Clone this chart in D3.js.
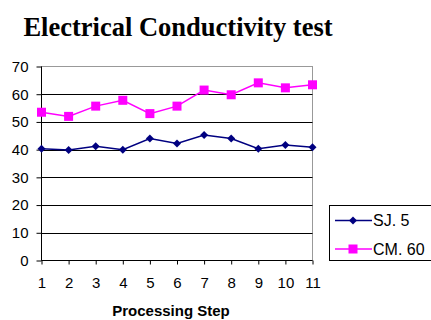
<!DOCTYPE html>
<html>
<head>
<meta charset="utf-8">
<script src="https://cdn.jsdelivr.net/npm/d3@7"></script>
<style>
  body { margin: 0; background: #fff; }
  svg { display: block; }
</style>
</head>
<body>
<svg id="chart" width="431" height="320"></svg>
<script>
// chart data
const steps = [1, 2, 3, 4, 5, 6, 7, 8, 9, 10, 11];
const sj5 = [40.3, 39.9, 41.2, 40.0, 44.0, 42.2, 45.3, 44.0, 40.3, 41.7, 40.9];
const cm60 = [53.5, 52.0, 55.7, 57.8, 53.0, 55.7, 61.5, 59.8, 64.1, 62.3, 63.4];
const yTicks = [0, 10, 20, 30, 40, 50, 60, 70];
const seriesNames = ["SJ. 5", "CM. 60"];

const svg = d3.select("#chart");
const plotLeft = 41.5, plotRight = 312.5, plotTop = 66.5, plotBottom = 260.5;
const sans = "'Liberation Sans', Arial, sans-serif";

const x = d3.scaleLinear().domain([1, 11]).range([plotLeft, plotRight]);
const y = d3.scaleLinear().domain([0, 70]).range([plotBottom, plotTop]);

// title
svg.append("text")
    .attr("x", 178).attr("y", 36)
    .attr("text-anchor", "middle")
    .style("font-family", "'Liberation Serif', 'Times New Roman', serif")
    .style("font-weight", "bold")
    .style("font-size", "26.5px")
    .text("Electrical Conductivity test");

// plot border (gray)
svg.append("rect")
    .attr("x", plotLeft).attr("y", plotTop)
    .attr("width", plotRight - plotLeft).attr("height", plotBottom - plotTop)
    .attr("fill", "none").attr("stroke", "#999");

// gridlines
svg.append("g")
    .selectAll("line")
    .data(yTicks.filter(d => d > 0 && d < 70))
    .join("line")
    .attr("x1", plotLeft).attr("x2", plotRight)
    .attr("y1", d => Math.round(y(d)) + 0.5).attr("y2", d => Math.round(y(d)) + 0.5)
    .attr("stroke", "#000");

// y axis
const yAxis = svg.append("g")
    .attr("transform", `translate(${plotLeft},0)`)
    .call(d3.axisLeft(y).tickValues(yTicks).tickSize(5).tickPadding(8).tickFormat(d3.format("d")));

// x axis
const xAxis = svg.append("g")
    .attr("transform", `translate(0,${plotBottom})`)
    .call(d3.axisBottom(x).tickValues(steps).tickSize(4).tickPadding(13).tickFormat(d3.format("d")));

[yAxis, xAxis].forEach(g => {
  g.select(".domain").attr("stroke", "#000");
  g.selectAll(".tick line").attr("stroke", "#000");
  g.selectAll("text")
      .attr("fill", "#000")
      .style("font-family", sans)
      .style("font-size", "15px");
});
yAxis.select(".domain").attr("d", `M0,${plotTop}V${plotBottom}`);
xAxis.select(".domain").attr("d", `M${plotLeft},0H${plotRight}`);

// x axis title
svg.append("text")
    .attr("x", 171).attr("y", 316)
    .attr("text-anchor", "middle")
    .style("font-family", sans)
    .style("font-weight", "bold")
    .style("font-size", "15px")
    .text("Processing Step");

const line = d3.line().x((d, i) => x(steps[i])).y(d => y(d));

// SJ. 5
svg.append("path").datum(sj5)
    .attr("d", line).attr("fill", "none")
    .attr("stroke", "#000080").attr("stroke-width", 1.5);
svg.append("g").selectAll("path")
    .data(sj5)
    .join("path")
    .attr("transform", (d, i) => `translate(${x(steps[i])},${y(d)})`)
    .attr("d", "M0,-4L4,0L0,4L-4,0Z")
    .attr("fill", "#000080");

// CM. 60
svg.append("path").datum(cm60)
    .attr("d", line).attr("fill", "none")
    .attr("stroke", "#ff00ff").attr("stroke-width", 1.5);
svg.append("g").selectAll("rect")
    .data(cm60)
    .join("rect")
    .attr("x", (d, i) => x(steps[i]) - 4.5)
    .attr("y", d => y(d) - 4.5)
    .attr("width", 9).attr("height", 9)
    .attr("fill", "#ff00ff");

// legend
const legend = svg.append("g");
legend.append("rect")
    .attr("x", 329.5).attr("y", 205.5)
    .attr("width", 110).attr("height", 55)
    .attr("fill", "#fff").attr("stroke", "#000");
const colors = ["#000080", "#ff00ff"];
seriesNames.forEach((name, i) => {
  const ly = 220.5 + i * 28.5;
  legend.append("line")
      .attr("x1", 335).attr("x2", 372)
      .attr("y1", ly).attr("y2", ly)
      .attr("stroke", colors[i]).attr("stroke-width", 1.5);
  if (i === 0) {
    legend.append("path")
        .attr("transform", `translate(353,${ly})`)
        .attr("d", "M0,-4L4,0L0,4L-4,0Z")
        .attr("fill", colors[i]);
  } else {
    legend.append("rect")
        .attr("x", 353 - 4.5).attr("y", ly - 4.5)
        .attr("width", 9).attr("height", 9)
        .attr("fill", colors[i]);
  }
  legend.append("text")
      .attr("x", 373).attr("y", ly + 5.5)
      .style("font-family", sans)
      .style("font-size", "16px")
      .text(name);
});
</script>
</body>
</html>
